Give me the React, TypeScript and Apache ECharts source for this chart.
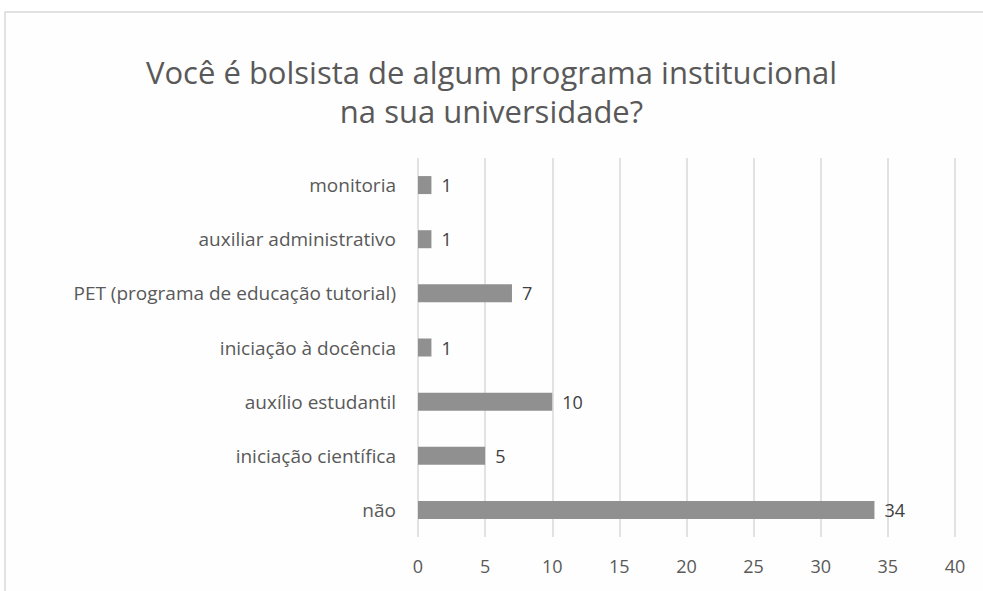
import React, { useEffect, useRef } from "react";
import * as echarts from "echarts";

const categories = [
  "não",
  "iniciação científica",
  "auxílio estudantil",
  "iniciação à docência",
  "PET (programa de educação tutorial)",
  "auxiliar administrativo",
  "monitoria",
];
const values = [34, 5, 10, 1, 7, 1, 1];
const titleText = "Você é bolsista de algum programa institucional\nna sua universidade?";

export default function App() {
  const ref = useRef<HTMLDivElement>(null);
  useEffect(() => {
    if (!ref.current) return;
    const chart = echarts.init(ref.current, null, { renderer: "svg" });
    const font = "'Open Sans', sans-serif";
    chart.setOption({
      animation: false,
      backgroundColor: "#ffffff",
      graphic: [
        {
          type: "rect",
          shape: { x: 5, y: 12, width: 1000, height: 600 },
          style: { fill: "#fefefe", stroke: "#d9d9d9", lineWidth: 1.5 },
          z: -10,
        },
      ],
      title: {
        text: titleText,
        left: "center",
        top: 47,
        textStyle: {
          fontFamily: font,
          fontSize: 31,
          fontWeight: "normal",
          color: "#595959",
          lineHeight: 39,
        },
      },
      grid: { left: 418, right: 28, top: 158, bottom: 54, containLabel: false },
      xAxis: {
        type: "value",
        min: 0,
        max: 40,
        interval: 5,
        axisLine: { show: false },
        axisTick: { show: false },
        splitLine: { lineStyle: { color: "#d9d9d9", width: 1.5 } },
        axisLabel: { color: "#595959", fontSize: 18, fontFamily: font, margin: 20 },
      },
      yAxis: {
        type: "category",
        data: categories,
        axisLine: { show: false },
        axisTick: { show: false },
        axisLabel: { color: "#595959", fontSize: 19, fontFamily: font, margin: 22 },
      },
      series: [
        {
          type: "bar",
          data: values,
          barWidth: 18,
          itemStyle: { color: "#909090" },
          label: {
            show: true,
            position: "right",
            distance: 10,
            color: "#404040",
            fontSize: 18,
            fontFamily: font,
          },
        },
      ],
    });
    return () => chart.dispose();
  }, []);
  return (
    <div style={{ position: "fixed", left: 0, top: 0, width: 983, height: 591 }}>
      <div ref={ref} style={{ width: 983, height: 591 }} />
    </div>
  );
}
